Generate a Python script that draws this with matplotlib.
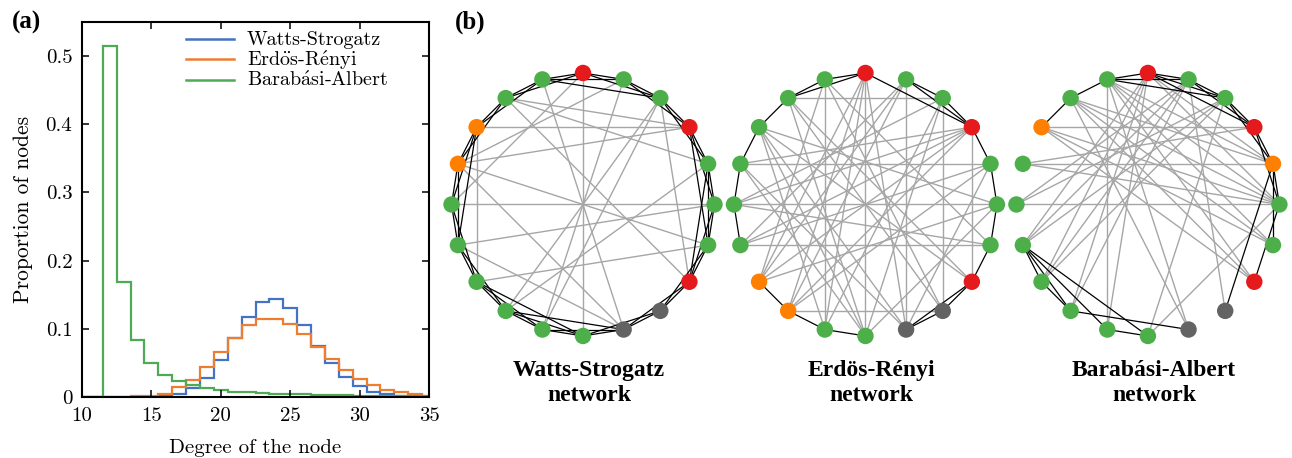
import numpy as np
import matplotlib
matplotlib.use("Agg")
import matplotlib.pyplot as plt
from matplotlib.collections import LineCollection

plt.rcParams['mathtext.fontset'] = 'cm'

# ---- degree distributions (proportion of nodes per degree) ----
degrees = list(range(10, 36))
ws_prop = [0, 0, 0, 0, 0, 0.0003, 0.001, 0.004, 0.013, 0.028, 0.054, 0.086, 0.117,
           0.139, 0.144, 0.130, 0.105, 0.075, 0.050, 0.029, 0.016, 0.008, 0.004,
           0.002, 0.001, 0.0005]
er_prop = [0, 0, 0.0002, 0.0005, 0.001, 0.002, 0.005, 0.014, 0.025, 0.044, 0.066,
           0.087, 0.105, 0.115, 0.115, 0.107, 0.092, 0.074, 0.056, 0.040, 0.026,
           0.017, 0.011, 0.007, 0.004, 0.0015]
ba_prop = [0, 0, 0.515, 0.168, 0.083, 0.050, 0.032, 0.023, 0.017, 0.013, 0.010,
           0.008, 0.007, 0.006, 0.005, 0.0045, 0.004, 0.0035, 0.003, 0.0025, 0.002,
           0.002, 0.0015, 0.0015, 0.001, 0.001]
series_labels = ['Watts-Strogatz',
                 r'Erd$\ddot{\rm o}$s-R$\acute{\rm e}$nyi',
                 r'Barab$\acute{\rm a}$si-Albert']
series_colors = ['#4472c4', '#ed7d31', '#4daa57']

# ---- example networks: 20 nodes on a circle, clockwise from the top ----
net_titles = ['Watts-Strogatz\nnetwork', 'Erdös-Rényi\nnetwork', 'Barabási-Albert\nnetwork']
G, R, O, K = 'g', 'r', 'o', 'k'
ws_nodes = [R, G, G, R, G, G, G, R, K, K, G, G, G, G, G, G, O, O, G, G]
er_nodes = [R, G, G, R, G, G, G, R, K, K, G, G, O, O, G, G, G, G, G, G]
ba_nodes = [R, G, G, R, O, G, G, R, K, K, G, G, G, G, G, G, G, O, G, G]

ws_local = [(i, (i + 1) % 20) for i in range(20)] + [(i, (i + 2) % 20) for i in range(20)] + \
           [(13, 10), (12, 9), (3, 6), (4, 7), (14, 17), (19, 2)]
ws_long = [(0, 10), (15, 5), (17, 3), (17, 13), (18, 3), (18, 4), (18, 7), (16, 3),
           (16, 6), (16, 9), (1, 16), (0, 15), (19, 9), (2, 11), (2, 12), (2, 7),
           (4, 12), (6, 13), (14, 9), (11, 1), (14, 5)]

er_local = [(19, 0), (18, 0), (18, 19), (17, 18), (16, 17), (15, 16), (14, 15),
            (12, 13), (11, 12), (10, 11), (0, 3), (1, 3), (2, 3), (1, 2), (3, 4),
            (4, 5), (5, 6), (6, 7), (7, 8), (8, 9), (7, 9)]
er_long = [(18, 2), (14, 6), (12, 8), (1, 9), (2, 8), (3, 7), (3, 15), (3, 16),
           (3, 14), (3, 13), (3, 12), (17, 7), (17, 10), (17, 11), (17, 9), (17, 5),
           (16, 4), (16, 9), (16, 10), (15, 5), (15, 6), (15, 2), (14, 1), (14, 4),
           (13, 1), (13, 19), (13, 5), (12, 4), (12, 0), (11, 19), (11, 2), (11, 0),
           (10, 0), (10, 18), (10, 5), (9, 0), (9, 4), (8, 18), (8, 19), (7, 18),
           (6, 19), (0, 13), (1, 12), (2, 10)]

ba_local = [(17, 18), (18, 19), (19, 0), (0, 1), (1, 2), (0, 2), (19, 1), (19, 2),
            (0, 3), (1, 3), (2, 3), (2, 4), (3, 4), (3, 5), (4, 5), (4, 6), (5, 7),
            (4, 8), (14, 13), (14, 12), (14, 11), (14, 10), (13, 12), (12, 9), (11, 10)]
ba_long = [(16, 4), (17, 3), (19, 11), (5, 17), (5, 16), (5, 15), (5, 19), (5, 18),
           (5, 0), (4, 18), (4, 19), (4, 0), (19, 7), (19, 6), (0, 13), (0, 14),
           (0, 12), (18, 9), (18, 7), (14, 1), (14, 2), (15, 1), (15, 2), (13, 1),
           (13, 2), (12, 1), (10, 5), (10, 2), (9, 19), (8, 1), (7, 17), (11, 0),
           (16, 3), (6, 18), (17, 6)]

networks = [(ws_nodes, ws_local, ws_long),
            (er_nodes, er_local, er_long),
            (ba_nodes, ba_local, ba_long)]
node_colors = {G: '#4daf4a', R: '#e41a1c', O: '#ff7f00', K: '#636363'}

fig = plt.figure(figsize=(12.92, 4.58), dpi=100)

# ---- (a) degree distribution ----
cm = ['cmr10', 'DejaVu Serif']
ax = fig.add_axes([82 / 1292, 61 / 458, 347 / 1292, 375 / 458])
edges = np.arange(degrees[0] - 0.5, degrees[-1] + 1.0, 1.0)
for vals, col in zip([ws_prop, er_prop, ba_prop], series_colors):
    ax.stairs(vals, edges, color=col, lw=1.6, baseline=None)
ax.set_xlim(10, 35)
ax.set_ylim(0, 0.55)
ax.set_xticks([10, 15, 20, 25, 30, 35])
ax.set_yticks([0, 0.1, 0.2, 0.3, 0.4, 0.5])
ax.set_yticklabels(['0', '0.1', '0.2', '0.3', '0.4', '0.5'])
ax.tick_params(direction='in', top=True, right=True, length=5, width=1.1, pad=7,
               labelsize=15)
for t in ax.get_xticklabels() + ax.get_yticklabels():
    t.set_family(cm)
for s in ax.spines.values():
    s.set_linewidth(1.5)
ax.set_xlabel('Degree of the node', family=cm, fontsize=15, labelpad=10)
ax.set_ylabel('Proportion of nodes', family=cm, fontsize=15.5, labelpad=9)

# legend rows: short line + label, stacked from the top
row_top, row_step = 0.955, 0.0545
for i, (lab, col) in enumerate(zip(series_labels, series_colors)):
    y = row_top - i * row_step
    ax.plot([0.30, 0.438], [y, y], color=col, lw=1.8, transform=ax.transAxes,
            clip_on=False)
    ax.text(0.4755, y - 0.017, lab, transform=ax.transAxes, ha='left', va='baseline',
            family=cm, fontsize=14.5)

# ---- (b) example networks ----
bx = fig.add_axes([440 / 1292, 0, 850 / 1292, 1])
bx.set_xlim(-1.0875, 5.3765)
bx.set_ylim(-1.928, 1.555)
bx.set_aspect('equal')
bx.axis('off')
spacing = 2.148
ang = np.deg2rad(90 - 18 * np.arange(20))
for n, (nodes, local, far) in enumerate(networks):
    cx = n * spacing
    px = cx + np.cos(ang)
    py = np.sin(ang)
    far_segs = [[(px[a], py[a]), (px[b], py[b])] for a, b in far]
    loc_segs = [[(px[a], py[a]), (px[b], py[b])] for a, b in local]
    bx.add_collection(LineCollection(far_segs, colors='#a6a6a6', linewidths=1.0, zorder=1))
    bx.add_collection(LineCollection(loc_segs, colors='black', linewidths=0.9, zorder=2))
    bx.scatter(px, py, s=140, c=[node_colors[c] for c in nodes], zorder=3, linewidths=0)
    bx.text(cx + 0.046, -1.36, net_titles[n], ha='center', va='center',
            multialignment='center', family='Liberation Serif', fontweight='bold',
            fontsize=17, linespacing=1.25)

fig.text(27 / 1292, 1 - 22 / 458, '(a)', ha='center', va='center',
         family='Liberation Serif', fontweight='bold', fontsize=18)
fig.text(470 / 1292, 1 - 22 / 458, '(b)', ha='center', va='center',
         family='Liberation Serif', fontweight='bold', fontsize=18)

fig.savefig('out.png', dpi=100)
